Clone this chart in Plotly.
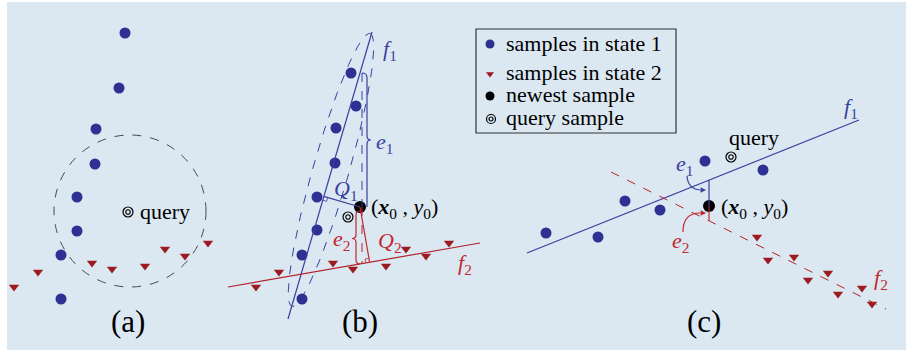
import numpy as np
import plotly.graph_objects as go

# ---------------- data (diagram coordinates, y grows downward) ----------------
# panel (a)
a_s1_x = [125, 119, 96, 95, 77, 77, 61, 61]
a_s1_y = [33, 88, 129, 164, 197, 231, 255, 299]
a_s2_x = [14, 38, 92, 112, 145, 165, 185, 208]
a_s2_y = [287, 272, 263, 269, 266, 249, 256, 243]
a_query = [128, 212]
a_circle_center = [130, 211]
a_circle_r = 76

# panel (b)
b_s1_x = [351, 356, 336, 335, 317, 317, 302, 302]
b_s1_y = [73, 106, 128, 163, 197, 230, 255, 299]
b_s2_x = [256, 279, 333, 353, 386, 406, 426, 449]
b_s2_y = [287, 272, 263, 269, 266, 249, 256, 243]
b_new = [360, 207]
b_query = [348, 217]
b_f1 = [[288, 319], [372, 32]]
b_f2 = [[228, 287], [480, 243]]
b_ell_center = [331, 170]
b_ell_axes = [142, 18]
b_ell_dir = [78, -273]

# panel (c)
c_s1_x = [546, 598, 625, 660, 705, 763]
c_s1_y = [233, 237, 201, 210, 161, 170]
c_s2_x = [757, 768, 794, 808, 828, 838, 862, 872]
c_s2_y = [237, 260, 257, 280, 273, 294, 288, 304]
c_new = [709, 206]
c_query = [731, 157]
c_f1 = [[527, 253], [859, 120]]
c_f2 = [[611, 172], [886, 309]]

legend_labels = ["samples in state 1", "samples in state 2", "newest sample", "query sample"]

# ---------------- styles ----------------
BG = "#dbe8f2"
BLUE = "#2e3192"
BLUE_L = "#3b3f9e"
RED = "#9b1b20"
RED_L = "#b3232b"
RED_T = "#c1272d"
FONT = "Liberation Serif, Times New Roman, Times, serif"

fig = go.Figure()


def line_y_at(seg, x):
    (x0, y0), (x1, y1) = seg
    return y0 + (x - x0) * (y1 - y0) / (x1 - x0)


def foot(p, seg):
    a = np.array(seg[0], float)
    b = np.array(seg[1], float)
    d = (b - a) / np.linalg.norm(b - a)
    p = np.array(p, float)
    return a + d * np.dot(p - a, d), d


def add_pts(x, y, sym, color, size, name):
    fig.add_trace(go.Scatter(x=x, y=y, mode="markers", name=name, showlegend=False,
                             marker=dict(symbol=sym, color=color, size=size,
                                         line=dict(width=0)), hoverinfo="skip"))


def add_query(p, s_out=10, s_in=4.5):
    for s in (s_out, s_in):
        fig.add_trace(go.Scatter(x=[p[0]], y=[p[1]], mode="markers", showlegend=False,
                                 marker=dict(symbol="circle-open", size=s, color="black",
                                             line=dict(width=1.2, color="black")),
                                 hoverinfo="skip"))


def seg_shape(p0, p1, color, width=1.2, dash="solid"):
    fig.add_shape(type="line", xref="x", yref="y", x0=p0[0], y0=p0[1], x1=p1[0], y1=p1[1],
                  line=dict(color=color, width=width, dash=dash))


def path_shape(path, color, width=1.2, dash="solid"):
    fig.add_shape(type="path", xref="x", yref="y", path=path,
                  line=dict(color=color, width=width, dash=dash))


def label(x, y, text, color="black", size=22, anchor="left"):
    fig.add_annotation(x=x, y=y, xref="x", yref="y", text=text, showarrow=False,
                       xanchor=anchor, yanchor="middle",
                       font=dict(family=FONT, size=size, color=color))


# background panel
fig.add_shape(type="rect", xref="x", yref="y", x0=7, x1=906, y0=2, y1=350,
              fillcolor=BG, line=dict(width=0), layer="below")

# ---------------- panel (a) ----------------
cx, cy = a_circle_center
fig.add_shape(type="circle", xref="x", yref="y", x0=cx - a_circle_r, x1=cx + a_circle_r,
              y0=cy - a_circle_r, y1=cy + a_circle_r,
              line=dict(color="#4a4a4a", width=1, dash="dash"))
add_pts(a_s1_x, a_s1_y, "circle", BLUE, 11, "s1a")
add_pts(a_s2_x, a_s2_y, "triangle-down", RED, 9, "s2a")
add_query(a_query)
label(a_query[0] + 10, a_query[1] - 1, "query")
label(a_query[0], 321, "(a)", size=31, anchor="center")

# ---------------- panel (b) ----------------
# ellipse around state-1 samples
u = np.array(b_ell_dir, float) / np.linalg.norm(b_ell_dir)
v = np.array([-u[1], u[0]])
t = np.linspace(0, 2 * np.pi, 200)
ex = b_ell_center[0] + b_ell_axes[0] * np.cos(t) * u[0] + b_ell_axes[1] * np.sin(t) * v[0]
ey = b_ell_center[1] + b_ell_axes[0] * np.cos(t) * u[1] + b_ell_axes[1] * np.sin(t) * v[1]
fig.add_trace(go.Scatter(x=ex, y=ey, mode="lines", showlegend=False, hoverinfo="skip",
                         line=dict(color=BLUE_L, width=1, dash="dash")))

# fitted lines
seg_shape(b_f1[0], b_f1[1], BLUE_L)
seg_shape(b_f2[0], b_f2[1], RED_L)

nx, ny = b_new
yf1 = line_y_at(b_f1, nx)
yf2 = line_y_at(b_f2, nx)
# dashed vertical through newest sample
seg_shape((nx + 2, yf1), (nx + 2, ny), BLUE_L, 1, "dash")
seg_shape((nx + 2, ny), (nx + 2, yf2), RED_L, 1, "dash")

# e1 brace (right side)
bx = nx + 7
ym = (yf1 + ny) / 2
path_shape(f"M {bx-5},{yf1} Q {bx},{yf1} {bx},{yf1+5} L {bx},{ym-4} Q {bx},{ym} {bx+4},{ym} "
           f"Q {bx},{ym} {bx},{ym+4} L {bx},{ny}", BLUE_L)
# e2 brace (left side)
bx2 = nx - 4
ym2 = (ny + yf2) / 2 + 3
path_shape(f"M {nx},{ny+4} Q {bx2},{ny+4} {bx2},{ny+8} L {bx2},{ym2-4} Q {bx2},{ym2} {bx2-4},{ym2} "
           f"Q {bx2},{ym2} {bx2},{ym2+4} L {bx2},{yf2-4} Q {bx2},{yf2} {nx},{yf2}", RED_T)

# Q1 / Q2 perpendiculars
f1p, d1 = foot(b_new, b_f1)
f2p, d2 = foot(b_new, b_f2)
seg_shape(b_new, f1p, BLUE_L)
seg_shape(b_new, f2p, RED_T)
# right-angle ticks
for fp, d, col in ((f1p, d1, BLUE_L), (f2p, d2, RED_T)):
    pv = np.array(b_new, float) - fp
    pv = pv / np.linalg.norm(pv)
    q1 = fp - d * 4
    q2 = q1 + pv * 4
    q3 = fp + pv * 4
    path_shape(f"M {q1[0]},{q1[1]} L {q2[0]},{q2[1]} L {q3[0]},{q3[1]}", col, 0.8)

add_pts(b_s1_x, b_s1_y, "circle", BLUE, 11, "s1b")
add_pts(b_s2_x, b_s2_y, "triangle-down", RED, 9, "s2b")
add_pts([nx], [ny], "circle", "black", 12, "newb")
add_query(b_query)

XY = "(<b><i>x</i></b><sub>0</sub> , <i>y</i><sub>0</sub>)"
label(381, 50, "<i>f</i><sub>1</sub>", BLUE_L)
label(374, 143, "<i>e</i><sub>1</sub>", BLUE_L)
label(332, 190, "<i>Q</i><sub>1</sub>", BLUE_L)
label(369, 208, XY)
label(352, 240, "<i>e</i><sub>2</sub>", RED_T, anchor="right")
label(376, 242, "<i>Q</i><sub>2</sub>", RED_T)
label(456, 264, "<i>f</i><sub>2</sub>", RED_T)
label(360, 321, "(b)", size=31, anchor="center")

# ---------------- legend box ----------------
fig.add_shape(type="rect", xref="x", yref="y", x0=476, x1=676, y0=29, y1=133,
              line=dict(color="#333333", width=1.2))
leg_y = [44, 74, 96, 119]
add_pts([490], [leg_y[0]], "circle", BLUE, 9, "l1")
add_pts([490], [leg_y[1]], "triangle-down", RED, 7, "l2")
add_pts([490], [leg_y[2]], "circle", "black", 9, "l3")
add_query([491, leg_y[3]], 9, 4)
for yy, txt in zip([43, 72, 94, 117], legend_labels):
    label(504, yy, txt)

# ---------------- panel (c) ----------------
seg_shape(c_f1[0], c_f1[1], BLUE_L)
seg_shape(c_f2[0], c_f2[1], RED_L, 1, "dash")
cnx, cny = c_new
cy1 = line_y_at(c_f1, cnx)
cy2 = line_y_at(c_f2, cnx)
seg_shape((cnx, cy1), (cnx, cny), BLUE_L)
seg_shape((cnx, cny), (cnx, cy2), RED_T)

add_pts(c_s1_x, c_s1_y, "circle", BLUE, 11, "s1c")
add_pts(c_s2_x, c_s2_y, "triangle-down", RED, 9, "s2c")
add_pts([cnx], [cny], "circle", "black", 12, "newc")
add_query(c_query)

# curved arrows
path_shape("M 687,176 Q 688,189 700,190", BLUE_L)
fig.add_annotation(x=cnx - 3, y=190, ax=cnx - 10, ay=190, xref="x", yref="y", axref="x", ayref="y",
                   text="", showarrow=True, arrowhead=2, arrowsize=0.9, arrowwidth=1.2,
                   arrowcolor=BLUE_L)
path_shape("M 683,232 Q 683,213 700,213", RED_T)
fig.add_annotation(x=cnx - 3, y=213, ax=cnx - 10, ay=213, xref="x", yref="y", axref="x", ayref="y",
                   text="", showarrow=True, arrowhead=2, arrowsize=0.9, arrowwidth=1.2,
                   arrowcolor=RED_T)

label(842, 108, "<i>f</i><sub>1</sub>", BLUE_L)
label(727, 137, "query")
label(674, 165, "<i>e</i><sub>1</sub>", BLUE_L)
label(719, 208, XY)
label(670, 242, "<i>e</i><sub>2</sub>", RED_T)
label(872, 279, "<i>f</i><sub>2</sub>", RED_T)
label(704, 321, "(c)", size=31, anchor="center")

fig.update_layout(width=906, height=354, margin=dict(l=0, r=0, t=0, b=0),
                  paper_bgcolor="white", plot_bgcolor="white", showlegend=False,
                  font=dict(family=FONT),
                  xaxis=dict(range=[0, 906], visible=False, fixedrange=True),
                  yaxis=dict(range=[354, 0], visible=False, fixedrange=True))

fig.write_html("out.html", post_script="document.body.style.margin='0px';",
               config={"displayModeBar": False})
